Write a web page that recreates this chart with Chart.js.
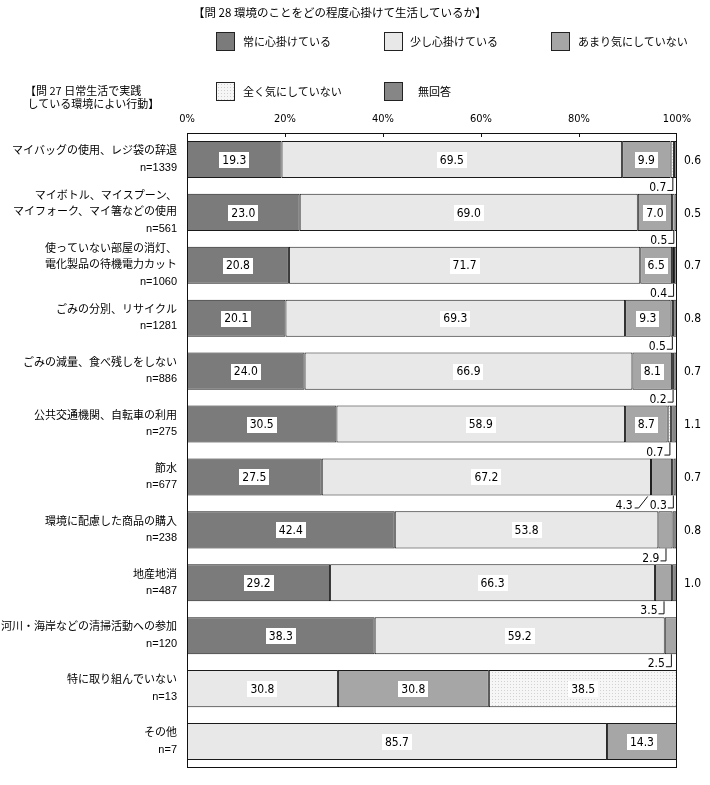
<!DOCTYPE html>
<html><head><meta charset="utf-8">
<script src="https://cdn.jsdelivr.net/npm/chart.js@4.4.1/dist/chart.umd.min.js"></script>
<style>
body{margin:0;background:#fff;}
#wrap{position:relative;width:710px;height:785px;overflow:hidden;}
#c{position:absolute;left:0;top:0;}
.t{position:absolute;font-family:"Noto Sans CJK JP",sans-serif;color:#000;white-space:pre;}
.sw{position:absolute;width:17px;height:17px;border:1px solid #222;}
</style></head>
<body>
<div id="wrap">
<canvas id="c" width="710" height="785"></canvas>
<div class="t" style="left:193px;top:3px;font-size:11.5px;line-height:18px;">【問 28 環境のことをどの程度心掛けて生活しているか】</div>
<div class="sw" style="left:216px;top:32px;background:#7b7b7b;"></div>
<div class="t" style="left:243px;top:32px;font-size:11px;line-height:19px;">常に心掛けている</div>
<div class="sw" style="left:384px;top:32px;background:#e8e8e8;"></div>
<div class="t" style="left:410px;top:32px;font-size:11px;line-height:19px;">少し心掛けている</div>
<div class="sw" style="left:551px;top:32px;background:#a6a6a6;"></div>
<div class="t" style="left:578px;top:32px;font-size:11px;line-height:19px;">あまり気にしていない</div>
<div class="sw" style="left:216px;top:82px;background-color:#f6f6f6;background-image:radial-gradient(#cfcfcf 0.7px,transparent 0.8px);background-size:3px 3px;"></div>
<div class="t" style="left:243px;top:82px;font-size:11px;line-height:19px;">全く気にしていない</div>
<div class="sw" style="left:384px;top:82px;background:#868686;"></div>
<div class="t" style="left:418px;top:82px;font-size:11px;line-height:19px;">無回答</div>
<div class="t" style="left:25px;top:84px;font-size:11px;line-height:13px;">【問 27 日常生活で実践
 している環境によい行動】</div>
</div>
<script>
const categories = [
  ["マイバッグの使用、レジ袋の辞退","n=1339"],
  ["マイボトル、マイスプーン、","マイフォーク、マイ箸などの使用","n=561"],
  ["使っていない部屋の消灯、","電化製品の待機電力カット","n=1060"],
  ["ごみの分別、リサイクル","n=1281"],
  ["ごみの減量、食べ残しをしない","n=886"],
  ["公共交通機関、自転車の利用","n=275"],
  ["節水","n=677"],
  ["環境に配慮した商品の購入","n=238"],
  ["地産地消","n=487"],
  ["河川・海岸などの清掃活動への参加","n=120"],
  ["特に取り組んでいない","n=13"],
  ["その他","n=7"]
];
const seriesNames = ["常に心掛けている","少し心掛けている","あまり気にしていない","全く気にしていない","無回答"];
const always    = [19.3,23.0,20.8,20.1,24.0,30.5,27.5,42.4,29.2,38.3,0,0];
const somewhat  = [69.5,69.0,71.7,69.3,66.9,58.9,67.2,53.8,66.3,59.2,30.8,85.7];
const notMuch   = [9.9,7.0,6.5,9.3,8.1,8.7,4.3,2.9,3.5,2.5,30.8,14.3];
const notAtAll  = [0.7,0.5,0.4,0.5,0.2,0.7,0.3,0,0,0,38.5,0];
const noAnswer  = [0.6,0.5,0.7,0.8,0.7,1.1,0.7,0.8,1.0,0,0,0];
const xTickLabels = ["0%","20%","40%","60%","80%","100%"];

const series = [always, somewhat, notMuch, notAtAll, noAnswer];
const NUM_FONT = '"Liberation Sans Narrow","Arial Narrow","DejaVu Sans Condensed",sans-serif';
const LABEL_FONT = '"Liberation Sans","Noto Sans CJK JP",sans-serif';

function makePattern(){
  const p = document.createElement('canvas'); p.width = 3; p.height = 3;
  const g = p.getContext('2d');
  g.fillStyle = '#f6f6f6'; g.fillRect(0,0,3,3);
  g.fillStyle = '#d2d2d2'; g.fillRect(0,0,1,1);
  return document.getElementById('c').getContext('2d').createPattern(p,'repeat');
}
const colors = ['#7b7b7b','#e8e8e8','#a6a6a6',makePattern(),'#868686'];

const labelPlugin = {
  id:'labels',
  afterDatasetsDraw(chart){
    const ctx = chart.ctx, ca = chart.chartArea, xs = chart.scales.x;
    ctx.save();
    ctx.strokeStyle = '#111'; ctx.lineWidth = 1;
    ctx.strokeRect(ca.left+0.5, ca.top+0.5, ca.right-ca.left-1, ca.bottom-ca.top-1);
    xTickLabels.forEach((t,k)=>{
      if(k===0 || k===xTickLabels.length-1) return;
      const x = Math.round(xs.getPixelForValue(k*20))+0.5;
      ctx.beginPath(); ctx.moveTo(x, ca.top); ctx.lineTo(x, ca.top+4); ctx.stroke();
    });
    ctx.font = '12px '+NUM_FONT;
    ctx.textBaseline = 'middle';
    categories.forEach((c,i)=>{
      const below = [];
      series.forEach((arr,di)=>{
        const v = arr[i]; if(!v) return;
        const bar = chart.getDatasetMeta(di).data[i];
        const pr = bar.getProps(['x','base','y','height'], true);
        const l = Math.min(pr.x, pr.base), r = Math.max(pr.x, pr.base), cx = (l+r)/2;
        const txt = v.toFixed(1);
        if(di === 4){
          ctx.fillStyle = '#000'; ctx.textAlign = 'left';
          ctx.fillText(txt, ca.right+7, pr.y+1);
        } else if(v >= 5){
          const w = ctx.measureText(txt).width;
          ctx.fillStyle = '#fff';
          ctx.fillRect(Math.round(cx - w/2 - 3), Math.round(pr.y - 7.5), Math.round(w + 6), 16);
          ctx.fillStyle = '#000'; ctx.textAlign = 'center';
          ctx.fillText(txt, cx, pr.y+1);
        } else {
          below.push({txt, cx, l, r, bottom: pr.y + pr.height/2});
        }
      });
      if(below.length){
        ctx.fillStyle = '#000'; ctx.textAlign = 'right';
        const last = below[below.length-1];
        const b = last.bottom;
        const tr = last.cx - 6;
        ctx.fillText(last.txt, tr, b+10);
        ctx.beginPath();
        ctx.moveTo(tr+1, b+12.5); ctx.lineTo(last.cx+0.5, b+12.5); ctx.lineTo(last.cx+0.5, b);
        ctx.stroke();
        if(below.length > 1){
          const wLast = ctx.measureText(last.txt).width;
          const first = below[0];
          const tr2 = tr - wLast - 17;
          ctx.fillText(first.txt, tr2, b+10);
          ctx.beginPath();
          ctx.moveTo(tr2+2, b+12.5); ctx.lineTo(tr2+6, b+12.5); ctx.lineTo(tr2+15, b+1);
          ctx.stroke();
        }
      }
    });
    ctx.restore();
  }
};

new Chart(document.getElementById('c'), {
  type:'bar',
  data:{
    labels: categories,
    datasets: series.map((arr,di)=>({
      label: seriesNames[di],
      data: arr.map(v => v ? v : null),
      backgroundColor: colors[di],
      borderColor: '#1a1a1a',
      borderWidth: 1,
      borderSkipped: false,
      barPercentage: 0.70,
      categoryPercentage: 1.0
    }))
  },
  options:{
    indexAxis:'y',
    responsive:false,
    animation:false,
    layout:{padding:{left:0,right:33,top:0,bottom:17}},
    plugins:{legend:{display:false},tooltip:{enabled:false},title:{display:false}},
    scales:{
      x:{
        position:'top', stacked:true, min:0, max:100,
        grid:{display:false, drawTicks:false},
        border:{display:false},
        ticks:{stepSize:20, padding:7, color:'#000', maxRotation:0,
          font:{family:NUM_FONT, size:11},
          callback:(v)=> xTickLabels[Math.round(v/20)]},
        afterFit:(s)=>{ s.height = 133; s.paddingLeft = 0; s.paddingRight = 0; }
      },
      y:{
        stacked:true,
        grid:{display:false, drawTicks:false},
        border:{display:false},
        ticks:{autoSkip:false, padding:10, color:'#000',
          font:{family:LABEL_FONT, size:11, lineHeight:1.5}},
        afterFit:(s)=>{ s.width = 187; s.paddingTop = 0; s.paddingBottom = 0; }
      }
    }
  },
  plugins:[labelPlugin]
});
</script>
</body></html>
